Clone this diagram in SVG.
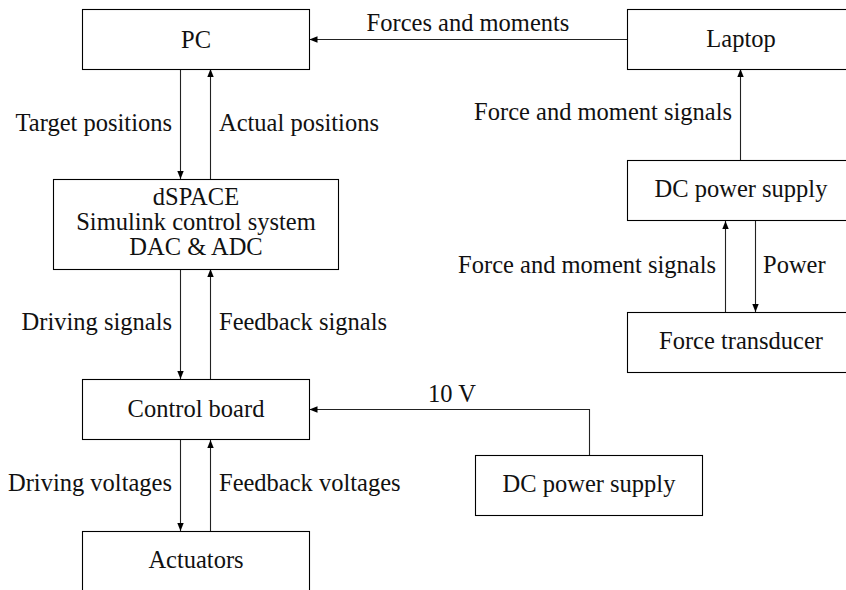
<svg xmlns="http://www.w3.org/2000/svg" width="846" height="590" viewBox="0 0 846 590">
<style>
  .box { fill: #fff; stroke: #000; stroke-width: 1.1; }
  .t { font-size: 24.5px; fill: #111; }
  .c { text-anchor: middle; }
  .e { text-anchor: end; }
  .ln { fill: none; stroke: #222; stroke-width: 1.1; }
</style>
<defs>
  <marker id="ah" viewBox="0 0 10 8" refX="10" refY="4" markerWidth="8" markerHeight="7" markerUnits="userSpaceOnUse" orient="auto">
    <path d="M0,0 L10,4 L0,8 Z" fill="#000"/>
  </marker>
</defs>
<rect width="846" height="590" fill="#fff"/>

<g id="connectors">
  <path class="ln" d="M627,39.5 L309.5,39.5" marker-end="url(#ah)"/>
  <path class="ln" d="M180.5,69 L180.5,179" marker-end="url(#ah)"/>
  <path class="ln" d="M210.5,179 L210.5,69" marker-end="url(#ah)"/>
  <path class="ln" d="M180.5,269 L180.5,379" marker-end="url(#ah)"/>
  <path class="ln" d="M210.5,379 L210.5,269" marker-end="url(#ah)"/>
  <path class="ln" d="M180.5,440 L180.5,531" marker-end="url(#ah)"/>
  <path class="ln" d="M210.5,531 L210.5,440" marker-end="url(#ah)"/>
  <path class="ln" d="M740.5,160 L740.5,69" marker-end="url(#ah)"/>
  <path class="ln" d="M725.5,312 L725.5,221" marker-end="url(#ah)"/>
  <path class="ln" d="M755.5,221 L755.5,312" marker-end="url(#ah)"/>
  <path class="ln" d="M589.5,455 L589.5,409.5 L309.5,409.5" marker-end="url(#ah)"/>
  <text class="t c" style="font-family:'Liberation Serif',serif" x="468" y="31">Forces and moments</text>
  <text class="t e" style="font-family:'Liberation Serif',serif" x="172" y="131">Target positions</text>
  <text class="t" style="font-family:'Liberation Serif',serif" x="219" y="131">Actual positions</text>
  <text class="t e" style="font-family:'Liberation Serif',serif" x="172" y="330">Driving signals</text>
  <text class="t" style="font-family:'Liberation Serif',serif" x="219" y="330">Feedback signals</text>
  <text class="t e" style="font-family:'Liberation Serif',serif" x="172" y="491">Driving voltages</text>
  <text class="t" style="font-family:'Liberation Serif',serif" x="219" y="491">Feedback voltages</text>
  <text class="t e" style="font-family:'Liberation Serif',serif" x="732" y="120">Force and moment signals</text>
  <text class="t e" style="font-family:'Liberation Serif',serif" x="716" y="273">Force and moment signals</text>
  <text class="t" style="font-family:'Liberation Serif',serif" x="763" y="273">Power</text>
  <text class="t" style="font-family:'Liberation Serif',serif" x="428" y="402">10 V</text>
</g>

<g id="pc">
  <rect class="box" x="82.5" y="9.5" width="227" height="60"/>
  <text class="t c" style="font-family:'Liberation Serif',serif" x="196" y="48">PC</text>
</g>
<g id="dspace">
  <rect class="box" x="53.5" y="179.5" width="285" height="90"/>
  <text class="t c" style="font-family:'Liberation Serif',serif" x="196" y="205">dSPACE</text>
  <text class="t c" style="font-family:'Liberation Serif',serif" x="196" y="230">Simulink control system</text>
  <text class="t c" style="font-family:'Liberation Serif',serif" x="196" y="255">DAC &amp; ADC</text>
</g>
<g id="control-board">
  <rect class="box" x="82.5" y="379.5" width="227" height="60"/>
  <text class="t c" style="font-family:'Liberation Serif',serif" x="196" y="417">Control board</text>
</g>
<g id="actuators">
  <rect class="box" x="82.5" y="531.5" width="227" height="62"/>
  <text class="t c" style="font-family:'Liberation Serif',serif" x="196" y="568">Actuators</text>
</g>
<g id="laptop">
  <rect class="box" x="627.5" y="9.5" width="227" height="60"/>
  <text class="t c" style="font-family:'Liberation Serif',serif" x="741" y="47">Laptop</text>
</g>
<g id="dc-power-supply-1">
  <rect class="box" x="627.5" y="160.5" width="227" height="60"/>
  <text class="t c" style="font-family:'Liberation Serif',serif" x="741" y="197">DC power supply</text>
</g>
<g id="force-transducer">
  <rect class="box" x="627.5" y="312.5" width="227" height="60"/>
  <text class="t c" style="font-family:'Liberation Serif',serif" x="741" y="349">Force transducer</text>
</g>
<g id="dc-power-supply-2">
  <rect class="box" x="475.5" y="455.5" width="227" height="60"/>
  <text class="t c" style="font-family:'Liberation Serif',serif" x="589" y="492">DC power supply</text>
</g>
</svg>
